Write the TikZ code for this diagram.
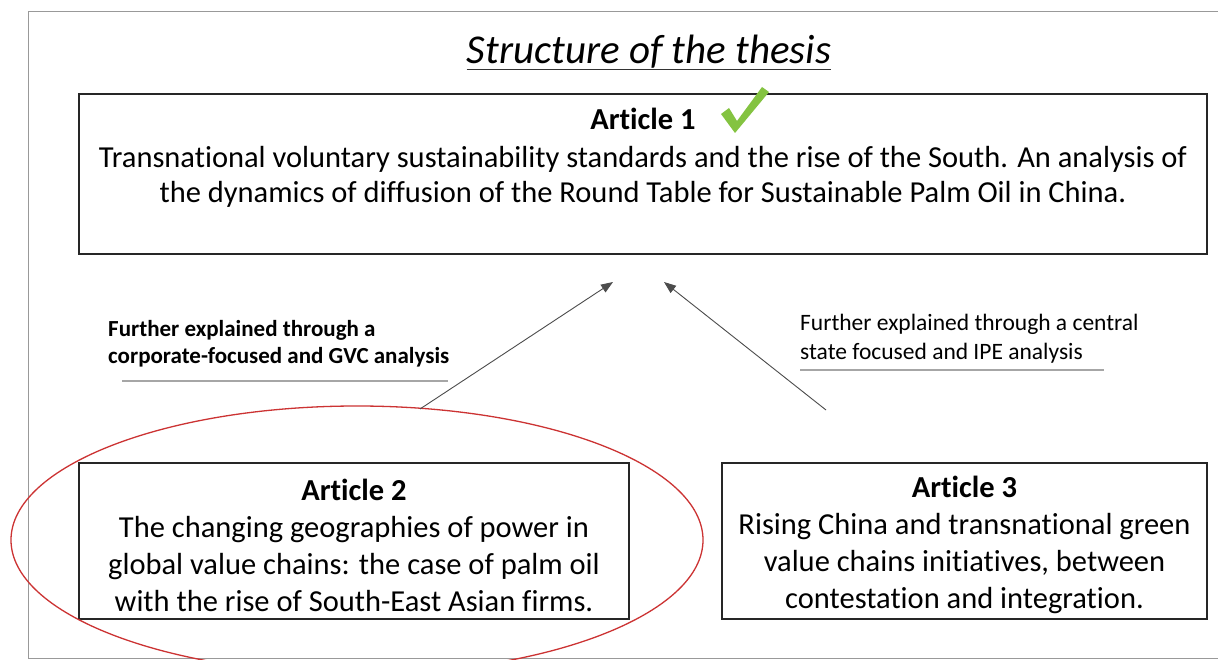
\documentclass[tikz,border=0pt]{standalone}
\usepackage{fontspec}
\setmainfont{Carlito}[Ligatures=NoCommon]
\usetikzlibrary{arrows.meta}
\definecolor{chk}{HTML}{84C341}
\definecolor{ellred}{HTML}{CC3333}
\begin{document}
\begin{tikzpicture}[x=1pt,y=-1pt,
 box/.style={draw=black!85, line width=1.4pt, inner sep=0},
 body/.style={align=center, font=\fontsize{30.5}{37}\selectfont, inner sep=0},
 lab/.style={align=left, inner sep=0, font=\fontsize{23.5}{29}\selectfont, anchor=north west},
 labb/.style={align=left, inner sep=0, font=\fontsize{23}{27}\selectfont\bfseries, anchor=north west},
 conn/.style={draw=black!70, line width=0.9pt, -{Triangle[length=12pt,width=9pt]}},
 uline/.style={draw=black!35, line width=1.6pt},
 frame/.style={draw=black!40, line width=1pt}]
\useasboundingbox (0,0) rectangle (1218,660);
\clip (0,0) rectangle (1218,660);
\fill[white] (0,0) rectangle (1218,660);
% frame
\draw[frame] (1218,12) -- (28,12) -- (28,658) -- (1218,658);
% title
\node[inner sep=0, font=\fontsize{41}{44}\selectfont\itshape, anchor=base] (title) at (649,64) {Structure of the thesis};
\draw[black!80, line width=1.3pt] ([yshift=-5.5pt]title.base west) -- ([yshift=-5.5pt]title.base east);
% boxes
\node[box, minimum width=1128pt, minimum height=160pt] (a1) at (643,174) {};
\node[box, minimum width=550pt, minimum height=156pt] (a2) at (354,541) {};
\node[box, minimum width=485pt, minimum height=156pt] (a3) at (964.5,541) {};
\node[body] (t1) at (643,158) {\textbf{Article 1}\\[1pt]Transnational voluntary sustainability standards and the rise of the South. An analysis of\\[-2pt]the dynamics of diffusion of the Round Table for Sustainable Palm Oil in China.};
\node[body] (t2) at (354,545) {\textbf{Article 2}\\The changing geographies of power in\\global value chains: the case of palm oil\\with the rise of South-East Asian firms.};
\node[body] (t3) at (964.5,545) {\textbf{Article 3}\\Rising China and transnational green\\value chains initiatives, between\\contestation and integration.};
% check mark
\fill[chk] (721,114) -- (729,108) -- (737,121) -- (762,87) -- (769,92) -- (735,133) -- cycle;
% ellipse
\draw[ellred, line width=1.3pt] (357,540) ellipse [x radius=346, y radius=134];
% arrows
\coordinate (s2) at (420,409);
\coordinate (e2) at (613,282);
\coordinate (s3) at (826,410);
\coordinate (e3) at (664,282);
\draw[conn] (s2) -- (e2);
\draw[conn] (s3) -- (e3);
% labels
\node[labb] (l2) at (108,320) {Further explained through a\\corporate-focused and GVC analysis};
\draw[uline] (122,381) -- (448,381);
\node[lab] (l3) at (800,314) {Further explained through a central\\state focused and IPE analysis};
\draw[uline] (800,370) -- (1104,370);
\end{tikzpicture}
\end{document}
